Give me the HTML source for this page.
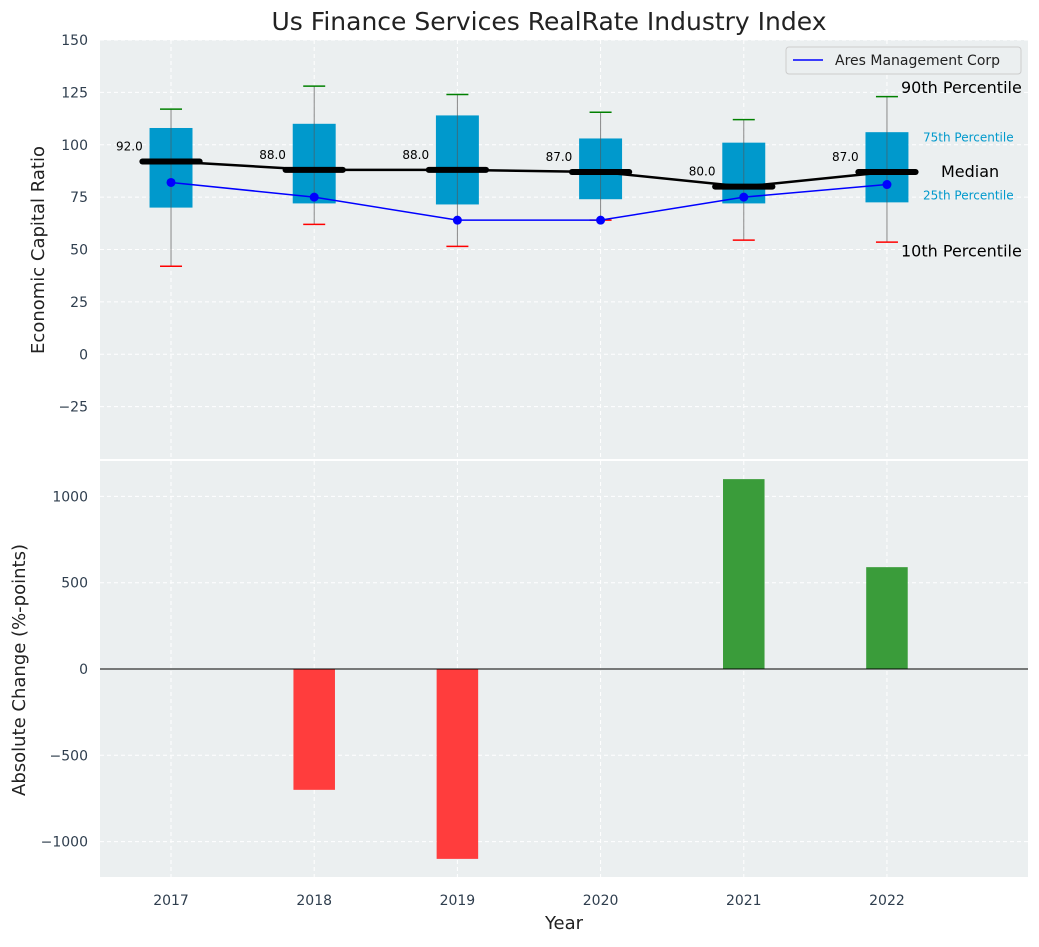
<!DOCTYPE html>
<html><head><meta charset="utf-8"><style>
body{margin:0;background:#fff;font-family:"Liberation Sans","DejaVu Sans",sans-serif}
svg text{font-family:"DejaVu Sans","Liberation Sans",sans-serif}
</style></head><body>
<svg id="c" width="1039" height="942" xmlns="http://www.w3.org/2000/svg"></svg>
<script>
const years=[2017,2018,2019,2020,2021,2022];
const p10=[42,62,51.5,64,54.5,53.5];
const q1=[70,72,71.5,74,72,72.5];
const median=[92,88,88,87,80,87];
const q3=[108,110,114,103,101,106];
const p90=[117,128,124,115.5,112,123];
const company=[82,75,64,64,75,81];
const changes=[0,-700,-1100,0,1100,590];
const topTicks=[-25,0,25,50,75,100,125,150];
const botTicks=[-1000,-500,0,500,1000];

const NS="http://www.w3.org/2000/svg";
const svg=document.getElementById('c');
function el(t,a,txt){const e=document.createElementNS(NS,t);for(const k in a)e.setAttribute(k,a[k]);if(txt!==undefined)e.textContent=txt;svg.appendChild(e);return e;}
const L=100,R=1028;
const X0=2016.504,X1=2022.985;
const x=v=>L+(v-X0)/(X1-X0)*(R-L);
const T0=40,T1=459;
const yT=v=>T0+(150-v)/200*(T1-T0);
const B0=461,B1=877;
const yB=v=>B0+(1205-v)/2410*(B1-B0);
const bw=(R-L)/(X1-X0);

let e;
e=el('rect',{x:L,y:T0,width:R-L,height:T1-T0,fill:'#ebeff0'});

e=el('rect',{x:L,y:B0,width:R-L,height:B1-B0,fill:'#ebeff0'});

topTicks.forEach(t=>{el('line',{x1:L,x2:R,y1:yT(t),y2:yT(t),stroke:'#fff','stroke-dasharray':'4,3'});
 e=el('text',{x:L-12,y:yT(t)+5,'text-anchor':'end','font-size':14,fill:'#2f3e4e'},t<0?'−'+(-t):t);
 });
botTicks.forEach(t=>{el('line',{x1:L,x2:R,y1:yB(t),y2:yB(t),stroke:'#fff','stroke-dasharray':'4,3'});
 e=el('text',{x:L-12,y:yB(t)+5,'text-anchor':'end','font-size':14,fill:'#2f3e4e'},t<0?'−'+(-t):t);
 });
years.forEach(yv=>{
 el('line',{x1:x(yv),x2:x(yv),y1:T0,y2:T1,stroke:'#fff','stroke-dasharray':'4,3'});
 el('line',{x1:x(yv),x2:x(yv),y1:B0,y2:B1,stroke:'#fff','stroke-dasharray':'4,3'});
 e=el('text',{x:x(yv),y:905,'text-anchor':'middle','font-size':14,fill:'#2f3e4e'},yv);
 
});
years.forEach((yv,i)=>{
 const cx=x(yv);
 el('line',{x1:cx,x2:cx,y1:yT(p90[i]),y2:yT(p10[i]),stroke:'#888','stroke-width':1});
 e=el('rect',{x:cx-0.15*bw,y:yT(q3[i]),width:0.3*bw,height:yT(q1[i])-yT(q3[i]),fill:'#0099cc'});
 
 el('line',{x1:cx,x2:cx,y1:yT(q3[i]),y2:yT(q1[i]),stroke:'#555','stroke-width':1,opacity:0.6});
 el('line',{x1:cx-11,x2:cx+11,y1:yT(p90[i]),y2:yT(p90[i]),stroke:'green','stroke-width':1.5});
 el('line',{x1:cx-11,x2:cx+11,y1:yT(p10[i]),y2:yT(p10[i]),stroke:'red','stroke-width':1.5});
});
e=el('polyline',{points:years.map((yv,i)=>x(yv)+','+yT(median[i])).join(' '),fill:'none',stroke:'#000','stroke-width':2.5});

years.forEach((yv,i)=>{
 const cx=x(yv);
 el('line',{x1:cx-0.2*bw,x2:cx+0.2*bw,y1:yT(median[i]),y2:yT(median[i]),stroke:'#000','stroke-width':6,'stroke-linecap':'round'});
 e=el('text',{x:cx-0.2*bw-13,y:yT(median[i])-11,'text-anchor':'middle','font-size':12,fill:'#000'},median[i].toFixed(1));
 
});
e=el('polyline',{points:years.map((yv,i)=>x(yv)+','+yT(company[i])).join(' '),fill:'none',stroke:'blue','stroke-width':1.5});

years.forEach((yv,i)=>{e=el('circle',{cx:x(yv),cy:yT(company[i]),r:4.5,fill:'blue'});
 });
[['90th Percentile',p90[5]+4.6,901,16,'#000'],['75th Percentile',q3[5]-2.5,923,12,'#0099cc'],['Median',median[5]+0.5,941,16,'#000'],['25th Percentile',q1[5]+3.2,923,12,'#0099cc'],['10th Percentile',p10[5]-4,901,16,'#000']].forEach(a=>{
 e=el('text',{x:a[2],y:yT(a[1])+(a[3]>14?6:4),'font-size':a[3],fill:a[4]},a[0]);
 });
e=el('rect',{x:786,y:47,width:235,height:27,fill:'#ebeff0',stroke:'#ccc',rx:3});

el('line',{x1:793,x2:823,y1:60,y2:60,stroke:'blue','stroke-width':1.5});
e=el('text',{x:835,y:65,'font-size':14,fill:'#222'},'Ares Management Corp');

years.forEach((yv,i)=>{const v=changes[i];if(!v)return;
 e=el('rect',{x:x(yv)-0.145*bw,width:0.29*bw,y:Math.min(yB(v),yB(0)),height:Math.abs(yB(v)-yB(0)),fill:v<0?'#ff3d3d':'#3a9c3a'});
 });
el('line',{x1:L,x2:R,y1:yB(0),y2:yB(0),stroke:'#000','stroke-width':1});
e=el('text',{x:549,y:30,'text-anchor':'middle','font-size':25,fill:'#222'},'Us Finance Services RealRate Industry Index');

e=el('text',{x:0,y:0,'text-anchor':'middle','font-size':18,fill:'#222',transform:'translate(44,250) rotate(-90)'},'Economic Capital Ratio');

e=el('text',{x:0,y:0,'text-anchor':'middle','font-size':18,fill:'#222',transform:'translate(25,670) rotate(-90)'},'Absolute Change (%-points)');

e=el('text',{x:564,y:929,'text-anchor':'middle','font-size':18,fill:'#222'},'Year');

</script>
</body></html>
